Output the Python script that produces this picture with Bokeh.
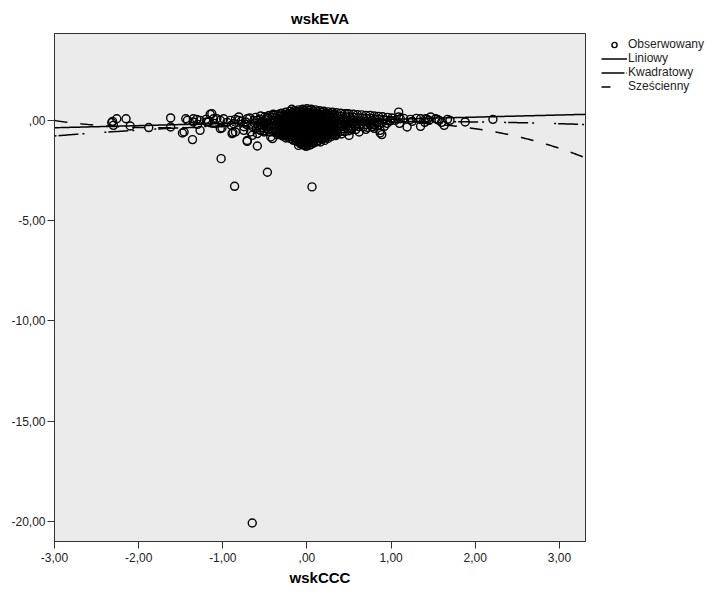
import numpy as np
from bokeh.plotting import figure
from bokeh.layouts import row
from bokeh.models import FixedTicker, Legend, LegendItem, Range1d
from bokeh.embed import file_html
from bokeh.resources import INLINE

# ---------------- data ----------------
x_ticks = [-3, -2, -1, 0, 1, 2, 3]
x_tick_labels = ["-3,00", "-2,00", "-1,00", ",00", "1,00", "2,00", "3,00"]
y_ticks = [0, -5, -10, -15, -20]
y_tick_labels = [",00", "-5,00", "-10,00", "-15,00", "-20,00"]

# fitted curves (coefficients a0 + a1 x + a2 x^2 + a3 x^3)
lin_coef = [-0.052, 0.106]
quad_coef = [-0.132, 0.102, -0.0379]
cubic_coef = [-0.135, 0.160, -0.0627, -0.0436]

# sparse observations
obs_x = [-0.65, -1.02, -0.86, -0.47, 0.06, -1.36, -0.59, -0.41, -0.71, -0.88,
         -0.10, -0.18, -1.13, -1.27, -1.48, -1.62, -1.88, -2.31, -2.26, -2.15,
         -2.10, -2.30, -2.32, -1.62, -1.42, -1.35, -1.31, -1.19, -1.11, -1.03,
         -1.01, -0.81, -0.73, -0.67, -0.65, -0.51, 0.50, 0.89, 0.87, 1.19,
         1.35, 1.47, 1.63, 1.67, 1.57, 1.88, 2.21, 1.23, 1.11, 1.09,
         1.35, 1.43, 1.53, 0.78, 0.81, 0.99, 0.52, 0.36, 0.18, 0.04,
         0.87, 1.09, 1.41, 0.78, 0.16, 0.04, -0.08, 0.34, 0.48, -1.44,
         -1.35, -1.27, -1.15, -1.17, -1.07, -0.99, -0.91, -0.87, -0.81, -0.71,
         -0.63, -0.75, -0.59, -0.89, -0.85, -0.71, -0.43, -1.46, -1.03, -0.22,
         -0.55, -0.47, -0.40, -0.32, -0.95, -0.85, -0.78, -0.72, -0.68, -0.65,
         -0.75, -0.90, -1.10, -1.20, -1.30, 1.05, 1.10, 1.15, 1.25, 1.30,
         1.40, 1.45, 1.55, 1.60, 1.70, 0.62, 0.70, 0.80, 0.92]
obs_y = [-20.08, -1.91, -3.29, -2.59, -3.32, -0.96, -1.28, -0.91, -1.05, -0.61,
         -1.25, 0.55, 0.33, -0.50, -0.63, 0.12, -0.36, -0.05, 0.08, 0.08,
         -0.28, -0.25, -0.11, -0.33, 0.00, -0.08, 0.05, -0.08, 0.08, 0.00,
         -0.38, 0.00, -0.08, -0.58, -0.75, -0.58, -0.75, -0.71, -0.50, -0.33,
         -0.30, 0.17, -0.25, 0.05, 0.00, -0.08, 0.05, 0.05, 0.08, 0.41,
         0.08, 0.05, 0.08, 0.00, -0.21, 0.00, -0.41, -0.50, -0.88, -0.88,
         -0.63, 0.17, 0.08, -0.33, -1.08, -1.08, -1.16, -0.75, 0.33, 0.08,
         0.08, 0.00, 0.30, -0.08, 0.08, 0.08, 0.00, -0.17, 0.17, 0.08,
         0.00, -0.50, -0.66, -0.66, -0.58, -1.00, -0.83, -0.58, -0.41, -0.66,
         -0.50, 0.17, 0.25, 0.33, -0.10, 0.05, -0.05, -0.20, 0.12, -0.30,
         -0.32, -0.25, -0.15, 0.05, -0.20, 0.00, -0.15, 0.10, -0.05, 0.10,
         -0.10, 0.00, 0.05, -0.10, 0.00, -0.58, -0.45, -0.40, -0.30]

# dense core of observations
core_x = [-0.61, -0.59, -0.62, -0.58, -0.60,
          -0.55, -0.56, -0.54, -0.55, -0.53, -0.56,
          -0.50, -0.49, -0.51, -0.50, -0.48, -0.51,
          -0.45, -0.46, -0.44, -0.45, -0.43, -0.46, -0.44,
          -0.40, -0.41, -0.39, -0.40, -0.42, -0.38, -0.40,
          -0.35, -0.36, -0.34, -0.35, -0.33, -0.36, -0.34, -0.35,
          -0.30, -0.31, -0.29, -0.30, -0.32, -0.28, -0.30, -0.31, -0.29,
          -0.25, -0.26, -0.24, -0.25, -0.27, -0.23, -0.25, -0.26, -0.24, -0.25,
          -0.20, -0.21, -0.19, -0.20, -0.22, -0.18, -0.20, -0.21, -0.19, -0.20,
          -0.15, -0.16, -0.14, -0.15, -0.17, -0.13, -0.15, -0.16, -0.14, -0.15, -0.16,
          -0.10, -0.11, -0.09, -0.10, -0.12, -0.08, -0.10, -0.11, -0.09, -0.10, -0.11, -0.09,
          -0.05, -0.06, -0.04, -0.05, -0.07, -0.03, -0.05, -0.06, -0.04, -0.05, -0.06, -0.04, -0.05,
          0.00, -0.01, 0.01, 0.00, -0.02, 0.02, 0.00, -0.01, 0.01, 0.00, -0.01, 0.01, 0.00, -0.01,
          0.05, 0.04, 0.06, 0.05, 0.03, 0.07, 0.05, 0.04, 0.06, 0.05, 0.04, 0.06, 0.05,
          0.10, 0.09, 0.11, 0.10, 0.08, 0.12, 0.10, 0.09, 0.11, 0.10, 0.09, 0.11,
          0.15, 0.14, 0.16, 0.15, 0.13, 0.17, 0.15, 0.14, 0.16, 0.15, 0.14,
          0.20, 0.21, 0.19, 0.20, 0.22, 0.18, 0.20, 0.21, 0.19, 0.20, 0.21,
          0.25, 0.26, 0.24, 0.25, 0.27, 0.23, 0.25, 0.26, 0.24, 0.25,
          0.30, 0.31, 0.29, 0.30, 0.32, 0.28, 0.30, 0.31, 0.29,
          0.35, 0.36, 0.34, 0.35, 0.37, 0.33, 0.35, 0.36, 0.34,
          0.40, 0.41, 0.39, 0.40, 0.42, 0.38, 0.40, 0.41,
          0.45, 0.46, 0.44, 0.45, 0.47, 0.43, 0.45,
          0.50, 0.51, 0.49, 0.50, 0.52, 0.48, 0.50,
          0.55, 0.56, 0.54, 0.55, 0.57, 0.53,
          0.60, 0.61, 0.59, 0.60, 0.62, 0.58,
          0.65, 0.66, 0.64, 0.65, 0.67,
          0.70, 0.71, 0.69, 0.70, 0.72,
          0.75, 0.76, 0.74, 0.75, 0.77,
          0.80, 0.81, 0.79, 0.80,
          0.85, 0.86, 0.84, 0.85,
          0.90, 0.91, 0.89,
          0.96, 0.94, 0.95,
          1.01, 0.99]
core_y = [0.15, 0.00, -0.14, -0.28, -0.40,
          0.22, 0.06, -0.08, -0.22, -0.36, -0.48,
          0.18, 0.03, -0.12, -0.26, -0.40, -0.52,
          0.25, 0.10, -0.05, -0.19, -0.33, -0.46, -0.58,
          0.30, 0.14, 0.00, -0.15, -0.30, -0.44, -0.58,
          0.28, 0.12, -0.03, -0.18, -0.33, -0.48, -0.62, -0.72,
          0.35, 0.20, 0.05, -0.10, -0.25, -0.40, -0.55, -0.68, -0.78,
          0.40, 0.25, 0.10, -0.05, -0.20, -0.35, -0.50, -0.64, -0.78, -0.88,
          0.45, 0.30, 0.15, 0.00, -0.15, -0.30, -0.45, -0.60, -0.75, -0.90,
          0.48, 0.33, 0.18, 0.03, -0.12, -0.27, -0.42, -0.57, -0.72, -0.87, -1.00,
          0.52, 0.37, 0.22, 0.07, -0.08, -0.23, -0.38, -0.53, -0.68, -0.83, -0.98, -1.10,
          0.55, 0.40, 0.25, 0.10, -0.05, -0.20, -0.35, -0.50, -0.65, -0.80, -0.95, -1.10, -1.22,
          0.58, 0.43, 0.28, 0.13, -0.02, -0.17, -0.32, -0.47, -0.62, -0.77, -0.92, -1.07, -1.20, -1.30,
          0.55, 0.40, 0.25, 0.10, -0.05, -0.20, -0.35, -0.50, -0.65, -0.80, -0.95, -1.10, -1.20,
          0.52, 0.37, 0.22, 0.07, -0.08, -0.23, -0.38, -0.53, -0.68, -0.83, -0.98, -1.08,
          0.48, 0.33, 0.18, 0.03, -0.12, -0.27, -0.42, -0.57, -0.72, -0.87, -1.00,
          0.45, 0.30, 0.15, 0.00, -0.15, -0.30, -0.45, -0.60, -0.75, -0.90, -1.00,
          0.42, 0.27, 0.12, -0.03, -0.18, -0.33, -0.48, -0.63, -0.78, -0.90,
          0.40, 0.25, 0.10, -0.05, -0.20, -0.35, -0.50, -0.65, -0.80,
          0.38, 0.23, 0.08, -0.07, -0.22, -0.37, -0.52, -0.66, -0.76,
          0.35, 0.20, 0.05, -0.10, -0.25, -0.40, -0.55, -0.68,
          0.33, 0.18, 0.03, -0.12, -0.27, -0.42, -0.56,
          0.32, 0.17, 0.02, -0.13, -0.28, -0.42, -0.52,
          0.30, 0.15, 0.00, -0.15, -0.30, -0.45,
          0.28, 0.13, -0.02, -0.17, -0.32, -0.46,
          0.27, 0.12, -0.03, -0.18, -0.33,
          0.25, 0.10, -0.05, -0.20, -0.35,
          0.25, 0.10, -0.05, -0.20, -0.32,
          0.22, 0.07, -0.08, -0.23,
          0.20, 0.05, -0.10, -0.25,
          0.18, 0.03, -0.12,
          0.15, 0.00, -0.15,
          0.12, -0.03]

# innermost, densest part of the core (column x -> y values)
inner_col_x = [-0.325, -0.275, -0.225, -0.175, -0.125, -0.075, -0.025,
               0.025, 0.075, 0.125, 0.175, 0.225, 0.275, 0.325]
inner_col_y = [
    [0.20, 0.05, -0.10, -0.25, -0.40, -0.55, -0.68],
    [0.28, 0.13, -0.02, -0.17, -0.32, -0.47, -0.62, -0.74],
    [0.33, 0.18, 0.03, -0.12, -0.27, -0.42, -0.57, -0.72, -0.84],
    [0.38, 0.23, 0.08, -0.07, -0.22, -0.37, -0.52, -0.67, -0.82, -0.94],
    [0.43, 0.28, 0.13, -0.02, -0.17, -0.32, -0.47, -0.62, -0.77, -0.92, -1.04],
    [0.46, 0.31, 0.16, 0.01, -0.14, -0.29, -0.44, -0.59, -0.74, -0.89, -1.04, -1.16],
    [0.50, 0.35, 0.20, 0.05, -0.10, -0.25, -0.40, -0.55, -0.70, -0.85, -1.00, -1.14, -1.25],
    [0.50, 0.35, 0.20, 0.05, -0.10, -0.25, -0.40, -0.55, -0.70, -0.85, -1.00, -1.14, -1.25],
    [0.46, 0.31, 0.16, 0.01, -0.14, -0.29, -0.44, -0.59, -0.74, -0.89, -1.04, -1.14],
    [0.43, 0.28, 0.13, -0.02, -0.17, -0.32, -0.47, -0.62, -0.77, -0.92, -1.04],
    [0.40, 0.25, 0.10, -0.05, -0.20, -0.35, -0.50, -0.65, -0.80, -0.94],
    [0.36, 0.21, 0.06, -0.09, -0.24, -0.39, -0.54, -0.69, -0.84],
    [0.33, 0.18, 0.03, -0.12, -0.27, -0.42, -0.57, -0.72],
    [0.30, 0.15, 0.00, -0.15, -0.30, -0.45, -0.60, -0.72],
]

title_text = "wskEVA"
x_label = "wskCCC"
legend_labels = ["Obserwowany", "Liniowy", "Kwadratowy", "Sześcienny"]

# ---------------- main figure ----------------
FONT = "Liberation Sans"
p = figure(width=590, height=596, x_range=Range1d(-3, 3.31), y_range=Range1d(-21.0, 4.33),
           output_backend="svg", toolbar_location=None,
           min_border_left=54, min_border_right=5, min_border_top=33, min_border_bottom=55)

p.background_fill_color = "#ebebeb"
p.border_fill_color = "white"
p.outline_line_color = "#333333"
p.outline_line_width = 1
p.grid.visible = False

p.title.text = title_text
p.title.align = "center"
p.title.text_font = FONT
p.title.text_font_size = "15px"
p.title.text_font_style = "bold"
p.title.text_color = "black"
p.title.standoff = 0
try:
    p.title.padding = 7
except Exception:
    pass

for ax in (p.xaxis[0], p.yaxis[0]):
    ax.axis_line_color = "#333333"
    ax.major_tick_line_color = "#333333"
    ax.major_tick_in = 0
    ax.major_tick_out = 7
    ax.minor_tick_line_color = None
    ax.major_label_text_font = FONT
    ax.major_label_text_font_size = "12px"
    ax.major_label_text_color = "#222222"

p.xaxis[0].ticker = FixedTicker(ticks=x_ticks)
p.xaxis[0].major_label_overrides = {t: l for t, l in zip(x_ticks, x_tick_labels)}
p.xaxis[0].major_label_standoff = 4
p.xaxis[0].axis_label = x_label
p.xaxis[0].axis_label_text_font = FONT
p.xaxis[0].axis_label_text_font_size = "15px"
p.xaxis[0].axis_label_text_font_style = "bold"
p.xaxis[0].axis_label_text_color = "black"
p.xaxis[0].axis_label_standoff = 4

p.yaxis[0].ticker = FixedTicker(ticks=y_ticks)
p.yaxis[0].major_label_overrides = {t: l for t, l in zip(y_ticks, y_tick_labels)}
p.yaxis[0].major_label_standoff = 2

inner_x = [cx for cx, col in zip(inner_col_x, inner_col_y) for _ in col]
inner_y = [v for col in inner_col_y for v in col]
all_x = obs_x + core_x + inner_x
all_y = obs_y + core_y + inner_y
p.scatter(all_x, all_y, marker="circle", size=8, fill_color=None,
          line_color="black", line_width=1.4)

xs = np.linspace(-3, 3.31, 300)
def poly(c, x):
    return sum(ci * x ** i for i, ci in enumerate(c))

p.line(xs, poly(lin_coef, xs), line_color="black", line_width=1.5)
p.line(xs, poly(quad_coef, xs), line_color="black", line_width=1.5, line_dash="2 2 20 4 2 20")
p.line(xs, poly(cubic_coef, xs), line_color="black", line_width=1.5, line_dash="13 13")

# ---------------- legend panel ----------------
lp = figure(width=131, height=596, x_range=Range1d(0, 1), y_range=Range1d(0, 1),
            output_backend="svg", toolbar_location=None,
            min_border_left=0, min_border_right=0, min_border_top=0, min_border_bottom=0)
lp.axis.visible = False
lp.grid.visible = False
lp.outline_line_color = None
lp.background_fill_color = "white"
lp.border_fill_color = "white"

off_x = [10, 11]
off_y = [10, 10]
lg_obs = lp.scatter(off_x, off_y, marker="circle", size=8, fill_color=None,
                    line_color="black", line_width=1.4)
lg_lin = lp.line(off_x, off_y, line_color="black", line_width=1.5)
lg_quad = lp.line(off_x, off_y, line_color="black", line_width=1.5, line_dash="23 2 1 60")
lg_cub = lp.line(off_x, off_y, line_color="black", line_width=1.5, line_dash="9 60")

legend = Legend(items=[LegendItem(label=legend_labels[0], renderers=[lg_obs]),
                       LegendItem(label=legend_labels[1], renderers=[lg_lin]),
                       LegendItem(label=legend_labels[2], renderers=[lg_quad]),
                       LegendItem(label=legend_labels[3], renderers=[lg_cub])],
                location=(11, 448), border_line_color=None, background_fill_alpha=0,
                padding=0, margin=0, spacing=0, glyph_width=26, glyph_height=13,
                label_height=13, label_standoff=1, label_text_font=FONT,
                label_text_font_size="12px", label_text_color="#222222")
lp.add_layout(legend)

layout = row(p, lp, spacing=0)
open("out.html", "w").write(file_html(layout, INLINE))
